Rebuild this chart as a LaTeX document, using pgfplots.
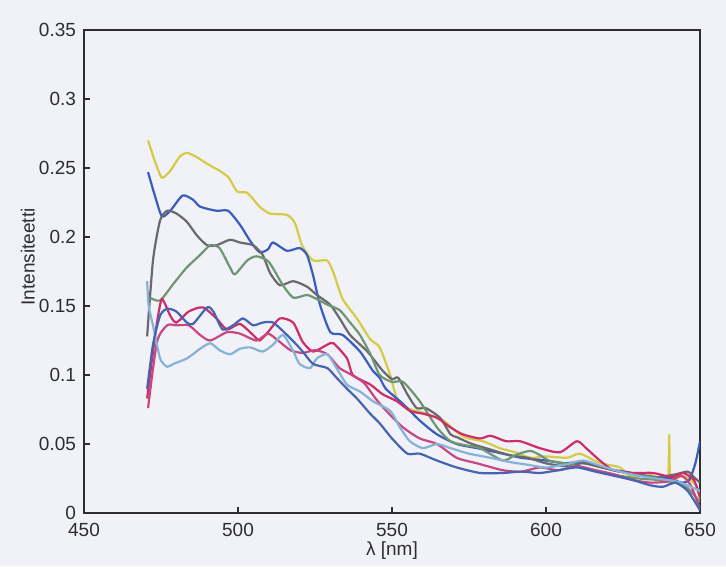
\documentclass[border=0pt]{standalone}
\usepackage{fontspec}
\setmainfont{Liberation Sans}
\usepackage{pgfplots}
\pgfplotsset{compat=1.18}
\usetikzlibrary{backgrounds}
\definecolor{bgc}{RGB}{240,242,247}
\definecolor{cyel}{RGB}{212,204,70}
\definecolor{cblu}{RGB}{58,92,190}
\definecolor{cgry}{RGB}{105,105,110}
\definecolor{cgrn}{RGB}{110,150,115}
\definecolor{cred}{RGB}{205,45,105}
\definecolor{cpnk}{RGB}{200,70,130}
\definecolor{clbl}{RGB}{135,178,215}
\definecolor{cmbl}{RGB}{70,100,175}
\definecolor{axc}{RGB}{45,45,50}
\begin{document}
\begin{tikzpicture}
\begin{axis}[name=ax,
  scale only axis, width=308pt, height=241.5pt,
  xmin=450, xmax=650, ymin=0, ymax=0.35,
  axis line style={axc, line width=0.8pt},
  xtick={450,500,550,600,650}, xticklabels={450,500,550,600,650},
  ytick={0,0.05,0.1,0.15,0.2,0.25,0.3,0.35},
  yticklabels={0,0.05,0.1,0.15,0.2,0.25,0.3,0.35},
  scaled ticks=false,
  tick align=inside, xtick pos=bottom, ytick pos=left,
  major tick length=3pt,
  tick style={axc, line width=0.6pt},
  tick label style={font=\fontsize{9.5}{10}\selectfont, text=axc},
  xticklabel style={yshift=-1.5pt},
  yticklabel style={xshift=-0.5pt},
  xlabel={\fontsize{9.5}{10}\selectfont λ [nm]},
  ylabel={\fontsize{9.5}{10}\selectfont Intensiteetti},
  xlabel style={at={(axis description cs:0.5,-0.077)}, anchor=center, text=axc},
  ylabel style={at={(axis description cs:-0.091,0.53)}, anchor=center, rotate=0, text=axc},
  every axis plot/.append style={line width=1.1pt, smooth, tension=0.4},
  clip=true,
]
% yellow
\addplot[cyel] coordinates {
(470.8,0.270)(473,0.255)(475.3,0.243)(478,0.248)(481,0.258)(483.4,0.261)(486.5,0.258)
(490,0.253)(494,0.248)(497,0.243)(499.7,0.233)(503,0.232)(507,0.222)(510.4,0.217)
(515.9,0.216)(518.5,0.210)(520.8,0.194)(524.4,0.183)(528.9,0.183)(531,0.174)(534,0.155)
(538.6,0.141)(542.9,0.126)(546,0.120)(549.4,0.100)(551.6,0.083)(555,0.076)(561,0.072)
(566.6,0.067)(572,0.057)(575,0.054)(579.5,0.052)(585,0.047)(590,0.044)(595,0.040)
(600,0.041)(606.8,0.040)(611,0.043)(616.6,0.037)(620,0.035)(624,0.033)(628,0.026)
(632.8,0.029)(637,0.024)(639.6,0.024)(640,0.057)(640.4,0.022)(643,0.026)(645.8,0.026)
(649,0.019)(650,0.010)};
% royal blue
\addplot[cblu] coordinates {
(470.8,0.247)(473,0.230)(475.3,0.215)(478,0.219)(482,0.230)(485.4,0.227)(487.7,0.222)
(493,0.219)(496.8,0.219)(500.6,0.209)(504,0.197)(507,0.189)(509.7,0.191)(511.4,0.196)
(515.9,0.190)(520,0.192)(522.4,0.187)(524.4,0.172)(526.6,0.151)(530,0.131)(534,0.129)
(539.6,0.117)(543.8,0.103)(546,0.098)(548,0.090)(553.6,0.079)(559,0.067)(564.6,0.057)
(571,0.050)(577.6,0.047)(586,0.043)(592,0.040)(600,0.038)(606,0.036)(612,0.037)
(620,0.032)(628,0.029)(634,0.026)(640,0.025)(644,0.022)(646.5,0.024)(648.5,0.036)(650,0.052)};
% gray
\addplot[cgry] coordinates {
(470.5,0.128)(472.4,0.183)(474.7,0.212)(477,0.219)(480,0.217)(483.4,0.211)(486.7,0.201)
(490,0.194)(493,0.194)(497.4,0.198)(500.6,0.196)(504.9,0.194)(508,0.187)(510.4,0.174)
(513.6,0.165)(517.9,0.168)(522.4,0.164)(525.6,0.158)(529.9,0.151)(533,0.141)(536.4,0.129)
(542,0.117)(547,0.103)(550,0.097)(552,0.098)(555,0.086)(558,0.076)(561,0.076)
(565.6,0.069)(569,0.057)(571,0.055)(576,0.050)(582,0.046)(588,0.042)(594,0.040)
(600,0.036)(606,0.034)(612,0.036)(618,0.033)(624,0.030)(630,0.028)(636,0.026)
(642,0.028)(646,0.030)(648,0.026)(650,0.022)};
% green
\addplot[cgrn] coordinates {
(471.4,0.156)(474.7,0.154)(479,0.166)(483.4,0.178)(487.7,0.187)(491,0.194)(494,0.192)
(497.4,0.178)(499,0.173)(503,0.183)(506,0.186)(510,0.182)(514.6,0.165)(518,0.156)
(522.4,0.158)(525.6,0.155)(529,0.151)(533,0.147)(536.4,0.138)(539.6,0.129)(543,0.115)
(546,0.100)(550,0.095)(553.6,0.095)(559,0.081)(564.6,0.062)(569,0.052)(574,0.049)
(578.6,0.047)(586,0.038)(590,0.042)(594.8,0.045)(598,0.042)(601,0.038)(606,0.036)
(612,0.033)(618,0.030)(624,0.027)(630,0.025)(636,0.024)(642,0.022)(646,0.018)(650,0.008)};
% crimson
\addplot[cred] coordinates {
(470.5,0.083)(472,0.110)(473.7,0.138)(475.3,0.155)(478,0.143)(480,0.138)(484,0.146)
(488.6,0.149)(493,0.141)(496.4,0.133)(500.6,0.137)(504.9,0.129)(507,0.125)(509.7,0.131)
(513.6,0.141)(517.9,0.138)(521,0.124)(524.4,0.117)(529,0.122)(531,0.123)(535.4,0.112)
(537.3,0.100)(543,0.093)(547,0.086)(551.6,0.081)(555.8,0.074)(560,0.072)(564.6,0.069)
(569,0.062)(573,0.057)(578.6,0.054)(582,0.056)(587,0.052)(591.6,0.052)(598,0.047)
(604.5,0.044)(610,0.052)(613,0.047)(617.5,0.038)(621.8,0.031)(628,0.029)(634.7,0.029)
(641,0.026)(644.5,0.029)(648,0.024)(650,0.011)};
% pink
\addplot[cpnk] coordinates {
(470.8,0.076)(473.7,0.124)(477,0.136)(480,0.136)(484,0.136)(487.7,0.129)(491,0.125)
(496.4,0.131)(500.6,0.130)(506,0.125)(509.7,0.130)(513,0.125)(517,0.118)(521,0.116)
(525,0.118)(529,0.115)(533,0.105)(537,0.100)(541,0.094)(545,0.082)(549,0.072)
(553.6,0.062)(559,0.054)(564.6,0.050)(571,0.040)(577.6,0.036)(586,0.031)(592,0.030)
(598,0.033)(604,0.031)(610,0.034)(616,0.031)(622,0.028)(628,0.024)(634,0.022)
(640,0.023)(644,0.027)(647,0.020)(650,0.003)};
% light blue
\addplot[clbl] coordinates {
(470.5,0.168)(471,0.150)(472.4,0.136)(474.7,0.112)(477,0.106)(479,0.108)(483.4,0.112)
(487.7,0.119)(491,0.123)(494,0.118)(497.4,0.115)(500.6,0.119)(504,0.120)(508,0.117)
(511.4,0.122)(514.6,0.129)(518,0.117)(520,0.108)(523.4,0.105)(525.6,0.112)(529,0.115)
(532,0.105)(535.4,0.093)(539.6,0.088)(543.8,0.081)(549.4,0.074)(552.6,0.062)(555.8,0.052)
(560,0.047)(564.6,0.050)(569,0.047)(575,0.043)(582,0.040)(588,0.037)(594,0.035)
(600,0.033)(606,0.035)(612,0.038)(618,0.034)(624,0.030)(630,0.027)(636,0.025)
(642,0.023)(646,0.020)(650,0.016)};
% medium blue
\addplot[cmbl] coordinates {
(470.5,0.090)(472.4,0.122)(474.7,0.143)(477,0.148)(480,0.146)(483.4,0.138)(485.4,0.137)
(490,0.149)(492,0.146)(495,0.133)(498.4,0.136)(501.6,0.141)(504.9,0.136)(508,0.138)
(511.4,0.138)(515.9,0.129)(519,0.122)(521,0.117)(524.4,0.108)(529,0.105)(532,0.098)
(535.4,0.090)(538.6,0.083)(542.9,0.072)(546,0.065)(550,0.054)(555,0.043)(559,0.043)
(564.6,0.038)(571,0.033)(578.6,0.029)(586,0.029)(592,0.030)(598,0.029)(604,0.031)
(610,0.033)(616,0.030)(622,0.027)(628,0.024)(634,0.020)(638,0.019)(642,0.022)
(646,0.016)(650,0.002)};
\end{axis}
\path ([xshift=-42pt,yshift=-26.5pt]ax.south west) rectangle ([xshift=13pt,yshift=15pt]ax.north east);
\begin{scope}[on background layer]
\fill[bgc] ([xshift=-42pt,yshift=-26.5pt]ax.south west) rectangle ([xshift=13pt,yshift=15pt]ax.north east);
\end{scope}
\end{tikzpicture}
\end{document}
